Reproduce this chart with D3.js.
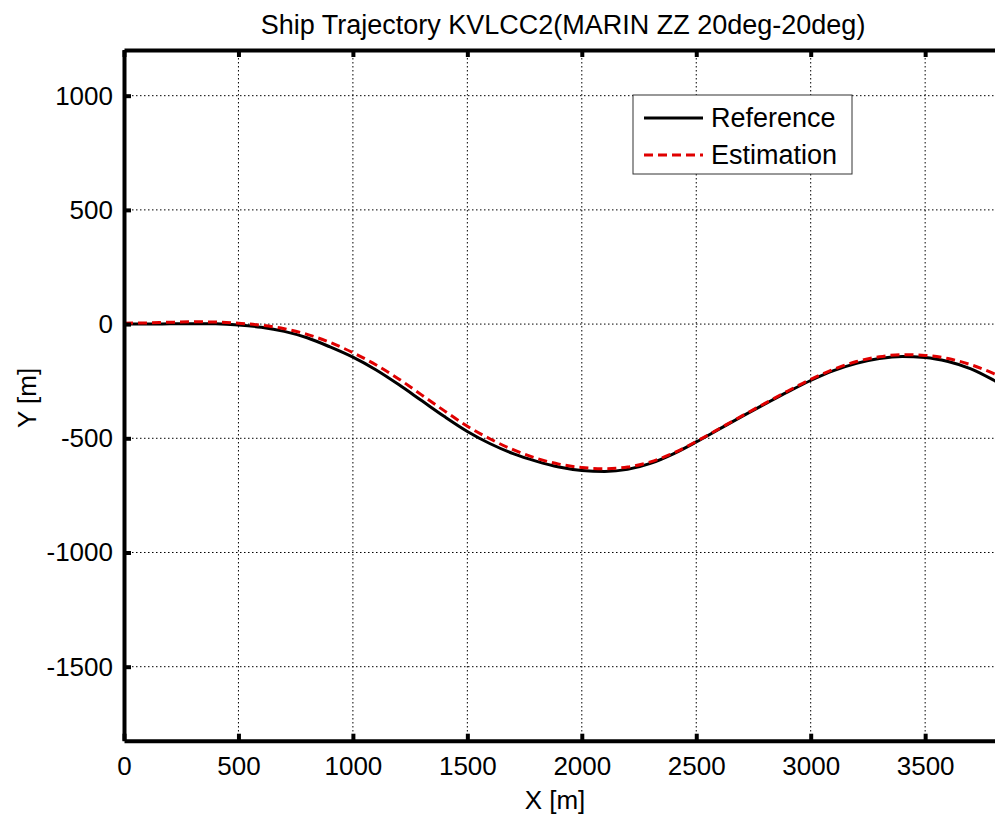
<!DOCTYPE html>
<html><head><meta charset="utf-8">
<script src="https://cdn.jsdelivr.net/npm/d3@7/dist/d3.min.js"></script>
<style>body{margin:0;background:#fff;} svg{display:block;} text{font-family:"Liberation Sans",Arial,sans-serif;}</style>
</head><body>
<svg id="c" width="995" height="814"></svg>
<script>
const xPos = [0,100,200,300,400,500,600,700,800,900,1000,1100,1200,1300,1400,1500,1600,1700,1800,1900,2000,2100,2200,2300,2400,2500,2600,2700,2800,2900,3000,3100,3200,3300,3400,3500,3600,3700,3800,3850];
const yReference = [0,0,1,2,1,-4,-14,-32,-60,-100,-145,-200,-265,-335,-405,-470,-524,-567,-600,-626,-641,-645,-636,-610,-568,-516,-460,-404,-350,-297,-247,-204,-172,-151,-142,-146,-164,-196,-246,-274];
const yEstimation = [4,5,8,10,9,4,-5,-20,-45,-80,-125,-178,-240,-310,-380,-447,-503,-550,-587,-613,-628,-633,-626,-603,-565,-514,-458,-402,-347,-293,-242,-198,-164,-143,-134,-137,-151,-178,-217,-240];
const xTicks = [0,500,1000,1500,2000,2500,3000,3500,4000];
const xTickLabels = ["0","500","1000","1500","2000","2500","3000","3500",""];
const yTicks = [-1500,-1000,-500,0,500,1000];
const yTickLabels = ["-1500","-1000","-500","0","500","1000"];
const xDomain = [0,4000];
const yDomain = [-1824,1200];
const seriesNames = ["Reference","Estimation"];
const titleText = "Ship Trajectory KVLCC2(MARIN ZZ 20deg-20deg)";

const svg = d3.select("#c");
const L=124, T=50, B=740.7, R=124+4000*0.2289;
const x = d3.scaleLinear().domain(xDomain).range([L,R]);
const y = d3.scaleLinear().domain(yDomain).range([B,T]);

svg.append("rect").attr("x",0).attr("y",0).attr("width",995).attr("height",814).attr("fill","#fff");
svg.append("clipPath").attr("id","pc").append("rect").attr("x",L).attr("y",T).attr("width",R-L).attr("height",B-T);

// grid
const grid = svg.append("g").attr("stroke","#000").attr("stroke-width",1).attr("stroke-dasharray","1.5,2.5");
grid.selectAll(".gx").data(xTicks.slice(1)).enter().append("line")
  .attr("x1",d=>x(d)).attr("x2",d=>x(d)).attr("y1",T).attr("y2",B);
grid.selectAll(".gy").data(yTicks).enter().append("line")
  .attr("y1",d=>y(d)).attr("y2",d=>y(d)).attr("x1",L).attr("x2",R);

// lines
const line = d3.line().x(d=>x(d[0])).y(d=>y(d[1])).curve(d3.curveMonotoneX);
const g = svg.append("g").attr("clip-path","url(#pc)");
g.append("path").datum(xPos.map((v,i)=>[v,yReference[i]]))
  .attr("d",line).attr("fill","none").attr("stroke","#000").attr("stroke-width",3);
g.append("path").datum(xPos.map((v,i)=>[v,yEstimation[i]]))
  .attr("d",line).attr("fill","none").attr("stroke","#e00000").attr("stroke-width",3).attr("stroke-dasharray","9,5");

// axes
const fs = "26px";
const ax = svg.append("g").attr("transform",`translate(0,${B})`)
  .call(d3.axisBottom(x).tickValues(xTicks).tickSizeInner(-7).tickSizeOuter(0).tickPadding(16).tickFormat((d,i)=>xTickLabels[i]));
ax.select(".domain").attr("stroke-width",4);
ax.selectAll(".tick line").attr("stroke-width",4);
ax.selectAll("text").attr("font-size",fs).attr("fill","#000").style("font-family","Liberation Sans, Arial");

const ay = svg.append("g").attr("transform",`translate(${L},0)`)
  .call(d3.axisLeft(y).tickValues(yTicks).tickSizeInner(-7).tickSizeOuter(0).tickPadding(11).tickFormat((d,i)=>yTickLabels[i]));
ay.select(".domain").attr("stroke-width",4);
ay.selectAll(".tick line").attr("stroke-width",4);
ay.selectAll("text").attr("font-size",fs).attr("fill","#000").style("font-family","Liberation Sans, Arial");

const at = svg.append("g").attr("transform",`translate(0,${T})`)
  .call(d3.axisTop(x).tickValues(xTicks).tickSizeInner(-7).tickSizeOuter(0).tickFormat(""));
at.select(".domain").attr("stroke-width",4);
at.selectAll(".tick line").attr("stroke-width",4);

// titles
svg.append("text").attr("x",563).attr("y",34).attr("text-anchor","middle").attr("font-size","27px").text(titleText);
svg.append("text").attr("x",555).attr("y",809).attr("text-anchor","middle").attr("font-size",fs).text("X [m]");
svg.append("text").attr("transform","translate(36,398) rotate(-90)").attr("text-anchor","middle").attr("font-size",fs).text("Y [m]");

// legend
const lg = svg.append("g");
lg.append("rect").attr("x",633).attr("y",95).attr("width",219).attr("height",79).attr("fill","#fff").attr("stroke","#333").attr("stroke-width",1);
const items = [{n:seriesNames[0],c:"#000",d:null,yy:118},{n:seriesNames[1],c:"#e00000",d:"9,5",yy:155}];
items.forEach(it=>{
  lg.append("line").attr("x1",644).attr("x2",703).attr("y1",it.yy).attr("y2",it.yy).attr("stroke",it.c).attr("stroke-width",3).attr("stroke-dasharray",it.d);
  lg.append("text").attr("x",711).attr("y",it.yy+9).attr("font-size","27px").text(it.n);
});
</script>
</body></html>
